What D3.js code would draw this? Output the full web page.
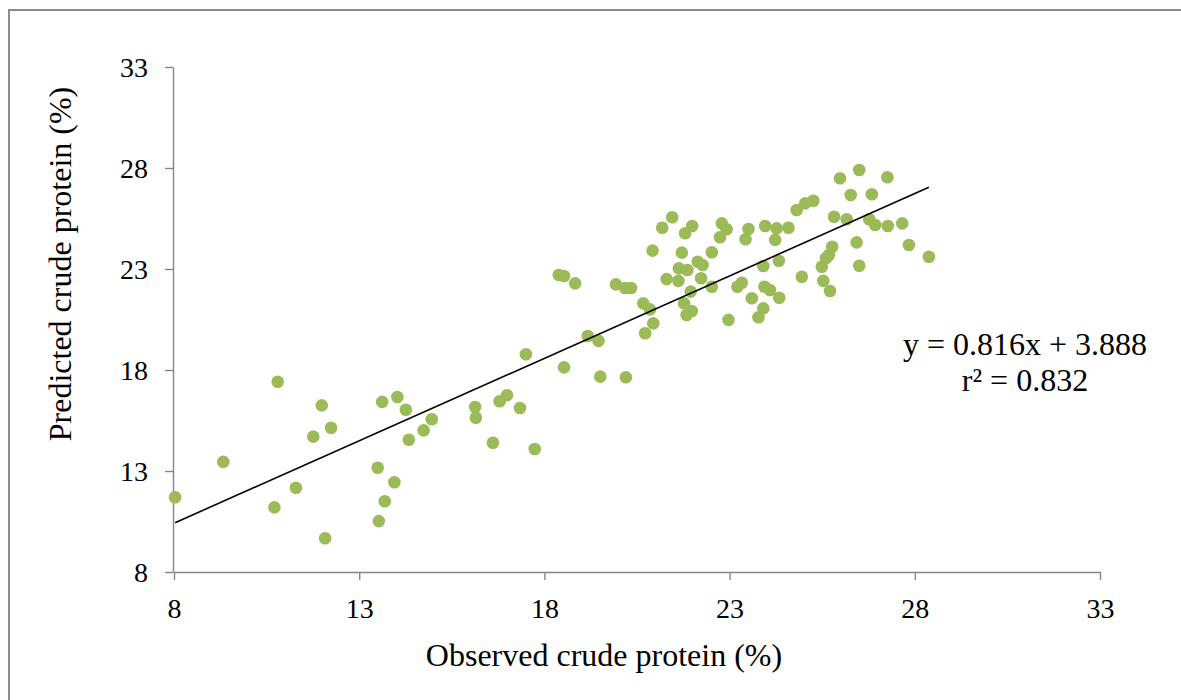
<!DOCTYPE html>
<html>
<head>
<meta charset="utf-8">
<script src="https://cdn.jsdelivr.net/npm/d3@7"></script>
<style>
    html, body { margin: 0; padding: 0; background: #ffffff; }
    svg { display: block; font-family: "Liberation Serif", "Times New Roman", serif; }
</style>
</head>
<body>
<div class="chart"></div>
<script>
// Observed vs predicted crude protein (%)
const observed = [
    8.03, 9.33, 10.80, 10.71, 11.29, 11.76, 11.99, 12.24, 12.08, 13.50,
    13.53, 13.62, 13.69, 13.95, 14.03, 14.26, 14.34, 14.74, 14.96, 16.13,
    16.15, 16.61, 16.79, 16.99, 17.34, 17.74, 18.53, 17.50,
    18.39, 18.53, 18.83, 19.93, 20.18, 20.34, 19.17, 19.46, 19.51, 20.20,
    20.67, 20.85, 20.72, 20.94, 20.92, 21.18, 21.45, 21.30, 21.62, 21.63,
    21.86, 21.71, 21.80, 21.99, 22.14, 22.27, 22.23, 22.52, 22.52, 21.95,
    21.77, 21.98, 21.84, 22.79, 22.92, 22.74, 22.97, 23.21, 23.33, 23.51,
    23.43, 23.60, 23.91, 23.96, 23.94, 24.09, 23.91, 23.78, 24.23, 24.27,
    24.33, 24.34,
    24.59, 24.81, 25.04, 25.26, 25.98, 26.50, 27.26, 26.27, 26.84, 25.82,
    26.16, 26.77, 26.93, 27.27, 27.66, 26.43, 27.84, 28.38, 25.77, 25.68,
    25.60, 25.49, 26.50, 24.95, 25.53, 25.71
];
const predicted = [
    11.70, 13.45, 17.42, 11.20, 12.17, 14.70, 16.25, 15.14, 9.67, 13.16,
    10.52, 16.42, 11.50, 12.44, 16.66, 16.03, 14.55, 15.01, 15.56, 16.17,
    15.64, 14.40, 16.45, 16.75, 16.12, 14.09, 18.13, 18.78,
    22.70, 22.65, 22.29, 22.24, 22.06, 22.06, 19.68, 19.44, 17.67, 17.64,
    21.30, 21.00, 19.82, 20.31, 23.91, 25.04, 25.56, 22.50, 22.41, 23.03,
    22.95, 23.81, 24.77, 25.13, 23.36, 23.20, 22.54, 23.83, 22.12, 21.88,
    21.30, 20.92, 20.72, 25.26, 24.97, 24.57, 20.48, 22.12, 22.32, 24.98,
    24.47, 21.55, 23.15, 25.13, 22.12, 21.96, 21.05, 20.61, 24.44, 25.01,
    23.41, 21.58,
    25.04, 25.92, 26.25, 26.38, 27.49, 27.90, 27.54, 26.66, 26.70, 25.59,
    25.46, 25.46, 25.18, 25.13, 25.26, 24.32, 24.19, 23.61, 24.10, 23.69,
    23.53, 23.11, 23.16, 22.62, 22.41, 21.91
];
const xTicks = [8, 13, 18, 23, 28, 33];
const yTicks = [8, 13, 18, 23, 28, 33];
const slope = 0.816;
const intercept = 3.888;
const equationLabel = "y = 0.816x + 3.888";
const r2Label = "r² = 0.832";

const width = 1181;
const height = 700;
const axisColor = "#868686";

const svg = d3.select(".chart").append("svg")
    .attr("width", width)
    .attr("height", height);

// outer chart border (runs off the right/bottom edge like the original)
svg.append("rect")
    .attr("x", 9)
    .attr("y", 10)
    .attr("width", width + 20)
    .attr("height", height + 20)
    .attr("fill", "none")
    .attr("stroke", "#8c8c8c")
    .attr("stroke-width", 2);

const x = d3.scaleLinear().domain([8, 33]).range([174, 1100]);
const y = d3.scaleLinear().domain([8, 33]).range([572, 67]);

// axes
const xAxis = svg.append("g")
    .attr("transform", `translate(0,${y(8)})`)
    .call(d3.axisBottom(x).tickValues(xTicks).tickSize(8).tickPadding(18).tickSizeOuter(0));

const yAxis = svg.append("g")
    .attr("transform", `translate(${x(8) - 1},0)`)
    .call(d3.axisLeft(y).tickValues(yTicks).tickSize(8).tickPadding(17).tickSizeOuter(0));

[xAxis, yAxis].forEach(g => {
    g.select(".domain").attr("stroke", axisColor).attr("stroke-width", 1.4);
    g.selectAll(".tick line").attr("stroke", axisColor).attr("stroke-width", 1.4);
    g.selectAll(".tick text")
        .attr("fill", "#000")
        .style("font-size", "28px")
        .style("font-family", "'Liberation Serif', 'Times New Roman', serif");
});
xAxis.selectAll(".tick text").attr("dy", "0.71em");
yAxis.selectAll(".tick text").attr("dy", "0.34em");

// points
const points = observed.map((v, i) => ({ obs: v, pred: predicted[i] }));

svg.append("g")
    .selectAll("circle")
    .data(points)
    .join("circle")
    .attr("cx", d => x(d.obs))
    .attr("cy", d => y(d.pred))
    .attr("r", 6.3)
    .attr("fill", "#9bbb59");

// fitted line over the observed range
const xExtent = d3.extent(observed);
svg.append("line")
    .attr("x1", x(xExtent[0]))
    .attr("y1", y(slope * xExtent[0] + intercept))
    .attr("x2", x(xExtent[1]))
    .attr("y2", y(slope * xExtent[1] + intercept))
    .attr("stroke", "#000")
    .attr("stroke-width", 1.6);

// equation labels
svg.append("text")
    .attr("x", 1025)
    .attr("y", 355)
    .attr("text-anchor", "middle")
    .style("font-size", "32px")
    .text(equationLabel);

svg.append("text")
    .attr("x", 1025)
    .attr("y", 391)
    .attr("text-anchor", "middle")
    .style("font-size", "32px")
    .text(r2Label);

// axis titles
svg.append("text")
    .attr("x", 604)
    .attr("y", 666)
    .attr("text-anchor", "middle")
    .style("font-size", "32px")
    .text("Observed crude protein (%)");

svg.append("text")
    .attr("transform", "translate(71,264) rotate(-90)")
    .attr("text-anchor", "middle")
    .style("font-size", "32px")
    .text("Predicted crude protein (%)");
</script>
</body>
</html>
